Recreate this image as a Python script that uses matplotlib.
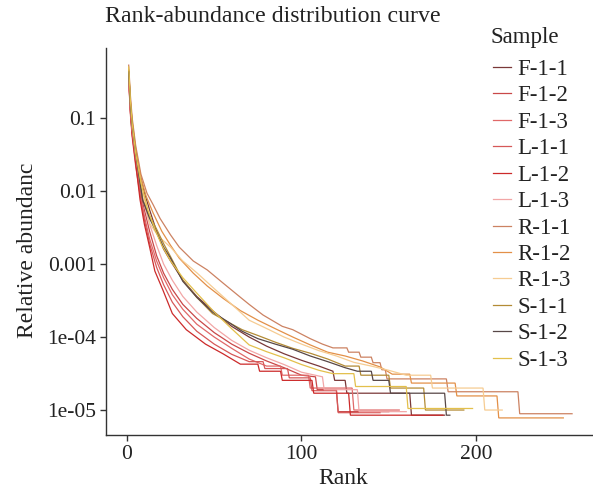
import matplotlib
matplotlib.use("Agg")
import matplotlib.pyplot as plt

plt.rcParams['font.family'] = ['Liberation Serif', 'DejaVu Serif']

samples = ["F-1-1", "F-1-2", "F-1-3", "L-1-1", "L-1-2", "L-1-3",
           "R-1-1", "R-1-2", "R-1-3", "S-1-1", "S-1-2", "S-1-3"]
colors = ["#7A3838", "#C94848", "#E06868", "#D65858", "#CC2A2A", "#F2A6A6",
          "#CC8262", "#E39048", "#F6CC92", "#B38B35", "#574747", "#E3C04C"]

F_1_1_rank = [1, 2, 3, 5, 8, 10, 13, 17, 21, 25, 32, 40, 50, 60, 70, 80, 90, 100, 110, 118, 119, 125, 126, 162, 163, 182]
F_1_1_val = [0.42, 0.16, 0.085, 0.035, 0.015, 0.0095, 0.0055, 0.0028, 0.0016, 0.0011, 6.0e-4, 3.6e-4, 2.2e-4, 1.4e-4,
             1.0e-4, 7.5e-5, 5.9e-5, 4.8e-5, 4.0e-5, 3.4e-5, 2.55e-5, 2.55e-5, 1.7e-5, 1.7e-5, 8.5e-6, 8.5e-6]

F_1_2_rank = [1, 2, 3, 5, 8, 10, 13, 17, 21, 26, 32, 40, 50, 60, 70, 80, 90, 100, 108, 109, 120, 121, 150]
F_1_2_val = [0.38, 0.13, 0.065, 0.028, 0.009, 0.0055, 0.0028, 0.0013, 7.5e-4, 4.5e-4, 2.8e-4, 1.8e-4, 1.15e-4, 8.0e-5,
             6.0e-5, 4.7e-5, 3.8e-5, 3.0e-5, 2.85e-5, 1.9e-5, 1.9e-5, 9.5e-6, 9.5e-6]

F_1_3_rank = [1, 2, 3, 5, 8, 10, 13, 17, 21, 26, 32, 40, 50, 60, 70, 80, 88, 89, 104, 105, 129, 130, 156]
F_1_3_val = [0.36, 0.12, 0.06, 0.025, 0.008, 0.0045, 0.0022, 0.0011, 6.5e-4, 3.8e-4, 2.4e-4, 1.5e-4, 1.0e-4, 7.0e-5,
             5.0e-5, 4.0e-5, 4.0e-5, 3.0e-5, 3.0e-5, 2.0e-5, 2.0e-5, 1.0e-5, 1.0e-5]

L_1_1_rank = [1, 2, 3, 5, 8, 10, 13, 17, 21, 26, 32, 40, 50, 60, 70, 78, 79, 92, 93, 105, 106, 120, 121, 145]
L_1_1_val = [0.33, 0.11, 0.055, 0.022, 0.0075, 0.004, 0.0019, 9.0e-4, 5.2e-4, 3.0e-4, 1.9e-4, 1.2e-4, 8.0e-5, 5.8e-5,
             4.6e-5, 4.6e-5, 3.7e-5, 3.7e-5, 2.76e-5, 2.76e-5, 1.84e-5, 1.84e-5, 9.2e-6, 9.2e-6]

L_1_2_rank = [1, 2, 3, 5, 7.5, 10, 13, 16, 20.6, 26, 34, 45, 55, 65, 75, 76, 88, 89, 106, 107, 127, 128, 181]
L_1_2_val = [0.35, 0.12, 0.06, 0.024, 0.0076, 0.0035, 0.0017, 8.0e-4, 4.4e-4, 2.1e-4, 1.26e-4, 8.0e-5, 5.9e-5, 4.25e-5,
             4.25e-5, 3.4e-5, 3.4e-5, 2.55e-5, 2.55e-5, 1.7e-5, 1.7e-5, 8.5e-6, 8.5e-6]

L_1_3_rank = [1, 2, 3, 5, 8, 10, 13, 17, 21, 26, 32, 40, 50, 60, 70, 80, 90, 100, 112, 113, 132, 133, 160]
L_1_3_val = [0.40, 0.14, 0.07, 0.03, 0.011, 0.0065, 0.0035, 0.0018, 0.001, 6.0e-4, 3.6e-4, 2.2e-4, 1.35e-4, 9.0e-5,
             6.6e-5, 5.2e-5, 4.2e-5, 3.3e-5, 2.85e-5, 1.9e-5, 1.9e-5, 9.5e-6, 9.5e-6]

R_1_1_rank = [1, 2, 3, 5, 8, 11.5, 15, 19, 25, 30, 38, 46, 55, 65, 70, 78, 89, 95, 105, 112, 118, 126, 127, 133, 134,
              140, 141, 145, 146, 148, 149, 183, 184, 224, 225, 255]
R_1_1_val = [0.53, 0.2, 0.1, 0.042, 0.017, 0.0093, 0.0065, 0.0042, 0.0025, 0.0017, 0.0011, 8.3e-4, 5.5e-4, 3.5e-4,
             2.8e-4, 2.0e-4, 1.4e-4, 1.26e-4, 9.5e-5, 8.0e-5, 7.1e-5, 7.1e-5, 6.2e-5, 6.2e-5, 5.3e-5,
             5.3e-5, 4.45e-5, 4.45e-5, 3.56e-5, 3.56e-5, 2.67e-5, 2.67e-5, 1.78e-5, 1.78e-5, 8.9e-6, 8.9e-6]

R_1_2_rank = [1, 2, 3, 5, 8, 11, 15, 20, 25, 30, 38, 46, 55, 65, 75, 85, 95, 105, 115, 125, 135, 145, 152, 162, 163,
              188, 189, 212, 213, 250]
R_1_2_val = [0.45, 0.17, 0.09, 0.038, 0.015, 0.0085, 0.005, 0.0028, 0.0018, 0.0012, 7.5e-4, 5.0e-4, 3.4e-4, 2.3e-4,
             1.7e-4, 1.3e-4, 1.0e-4, 7.8e-5, 6.2e-5, 5.5e-5, 4.7e-5, 3.9e-5, 3.1e-5, 3.1e-5, 2.34e-5,
             2.34e-5, 1.56e-5, 1.56e-5, 7.8e-6, 7.8e-6]

R_1_3_rank = [1, 2, 3, 5, 8, 13, 18, 25, 32, 40, 50, 59, 70, 78, 90, 100, 110, 120, 130, 140, 150, 160, 174, 175,
              204, 205, 215]
R_1_3_val = [0.40, 0.15, 0.08, 0.033, 0.013, 0.0036, 0.0024, 0.0017, 0.0011, 7.6e-4, 4.6e-4, 2.95e-4, 1.7e-4,
             1.38e-4, 1.0e-4, 8.0e-5, 6.5e-5, 5.5e-5, 4.5e-5, 4.0e-5, 3.5e-5, 3.0e-5, 3.0e-5, 2.0e-5,
             2.0e-5, 1.0e-5, 1.0e-5]

S_1_1_rank = [1, 2, 3, 5, 9, 13, 17, 21, 25, 32, 40, 49, 59, 66, 75, 85, 95, 105, 115, 125, 133, 134, 150, 151,
              170, 171, 193]
S_1_1_val = [0.45, 0.16, 0.085, 0.035, 0.0076, 0.0045, 0.003, 0.0019, 0.00126, 6.0e-4, 3.5e-4, 2.1e-4, 1.55e-4,
             1.26e-4, 1.05e-4, 8.5e-5, 7.0e-5, 6.0e-5, 5.0e-5, 4.0e-5, 4.0e-5, 3.0e-5, 3.0e-5, 2.0e-5,
             2.0e-5, 1.0e-5, 1.0e-5]

S_1_2_rank = [1, 2, 3, 5, 9, 13, 17, 21, 25, 32, 40, 49, 59, 66, 75, 85, 95, 105, 115, 125, 132, 140, 141, 150,
              151, 182, 183, 185]
S_1_2_val = [0.43, 0.15, 0.08, 0.032, 0.0075, 0.0042, 0.0027, 0.0017, 0.0012, 5.8e-4, 3.5e-4, 2.2e-4, 1.55e-4,
             1.2e-4, 9.5e-5, 8.0e-5, 6.8e-5, 5.5e-5, 4.6e-5, 3.8e-5, 3.4e-5, 3.4e-5, 2.55e-5, 2.55e-5,
             1.7e-5, 1.7e-5, 8.5e-6, 8.5e-6]

S_1_3_rank = [1, 2, 3, 5, 8, 12, 16, 20, 25, 32, 40, 50, 60, 70, 80, 90, 100, 110, 118, 130, 131, 160, 161, 198]
S_1_3_val = [0.50, 0.17, 0.085, 0.033, 0.013, 0.0055, 0.003, 0.0018, 0.0011, 6.5e-4, 4.0e-4, 2.2e-4, 1.3e-4,
             7.8e-5, 6.3e-5, 5.2e-5, 4.2e-5, 3.5e-5, 3.15e-5, 3.15e-5, 2.1e-5, 2.1e-5, 1.05e-5, 1.05e-5]

series = [
    (F_1_1_rank, F_1_1_val), (F_1_2_rank, F_1_2_val), (F_1_3_rank, F_1_3_val),
    (L_1_1_rank, L_1_1_val), (L_1_2_rank, L_1_2_val), (L_1_3_rank, L_1_3_val),
    (R_1_1_rank, R_1_1_val), (R_1_2_rank, R_1_2_val), (R_1_3_rank, R_1_3_val),
    (S_1_1_rank, S_1_1_val), (S_1_2_rank, S_1_2_val), (S_1_3_rank, S_1_3_val),
]

y_ticks = [0.1, 0.01, 0.001, 1e-4, 1e-5]
y_tick_labels = ["0.1", "0.01", "0.001", "1e-04", "1e-05"]
x_ticks = [0, 100, 200]

W, H = 593, 493
fig = plt.figure(figsize=(W / 100, H / 100), dpi=100)
ax = fig.add_axes([106 / W, (H - 435) / H, (W - 106) / W, (435 - 48) / H])

for (r, v), c, name in zip(series, colors, samples):
    ax.plot(r, v, color=c, lw=0.9, label=name, solid_joinstyle='miter')

ax.set_yscale('log')
ax.set_xlim(-12, 267)
ax.set_ylim(10 ** -5.342, 10 ** -0.041)
ax.set_yticks(y_ticks)
ax.set_yticklabels(y_tick_labels)
ax.minorticks_off()
ax.set_xticks(x_ticks)
for s in ['top', 'right']:
    ax.spines[s].set_visible(False)
for s in ['left', 'bottom']:
    ax.spines[s].set_color('#333333')
    ax.spines[s].set_linewidth(1.0)
ax.tick_params(axis='both', direction='out', length=4, width=1.0, color='#333333',
               labelsize=15.5, labelcolor='#222222', pad=3)

ax.set_xlabel("Rank", fontsize=17, color='#222222')
ax.xaxis.set_label_coords((343 - 106) / (W - 106), -(478 - 435) / (435 - 48), transform=ax.transAxes)
ax.xaxis.label.set_va('center')
ax.set_ylabel("Relative abundanc", fontsize=17, color='#222222')
ax.yaxis.set_label_coords(-(106 - 28) / (W - 106), (435 - 250) / (435 - 48), transform=ax.transAxes)
ax.yaxis.label.set_va('center')
fig.text(105 / W, 1 - 17 / H, "Rank-abundance distribution curve", fontsize=17.2,
         color='#222222', ha='left', va='center')

# legend title drawn separately, entries below it
fig.text(490 / W, 1 - 38 / H, "Sample", fontsize=16.5, color='#222222', ha='left', va='center')
leg = ax.legend(loc='upper left', bbox_to_anchor=(493 / W, 1 - 59 / H), bbox_transform=fig.transFigure,
                frameon=False, fontsize=16.5,
                handlelength=0.8, handletextpad=0.25, labelspacing=0.235, borderpad=0,
                borderaxespad=0)
for t in leg.get_texts():
    t.set_color('#222222')

fig.savefig("out.png", dpi=100, facecolor='white')
